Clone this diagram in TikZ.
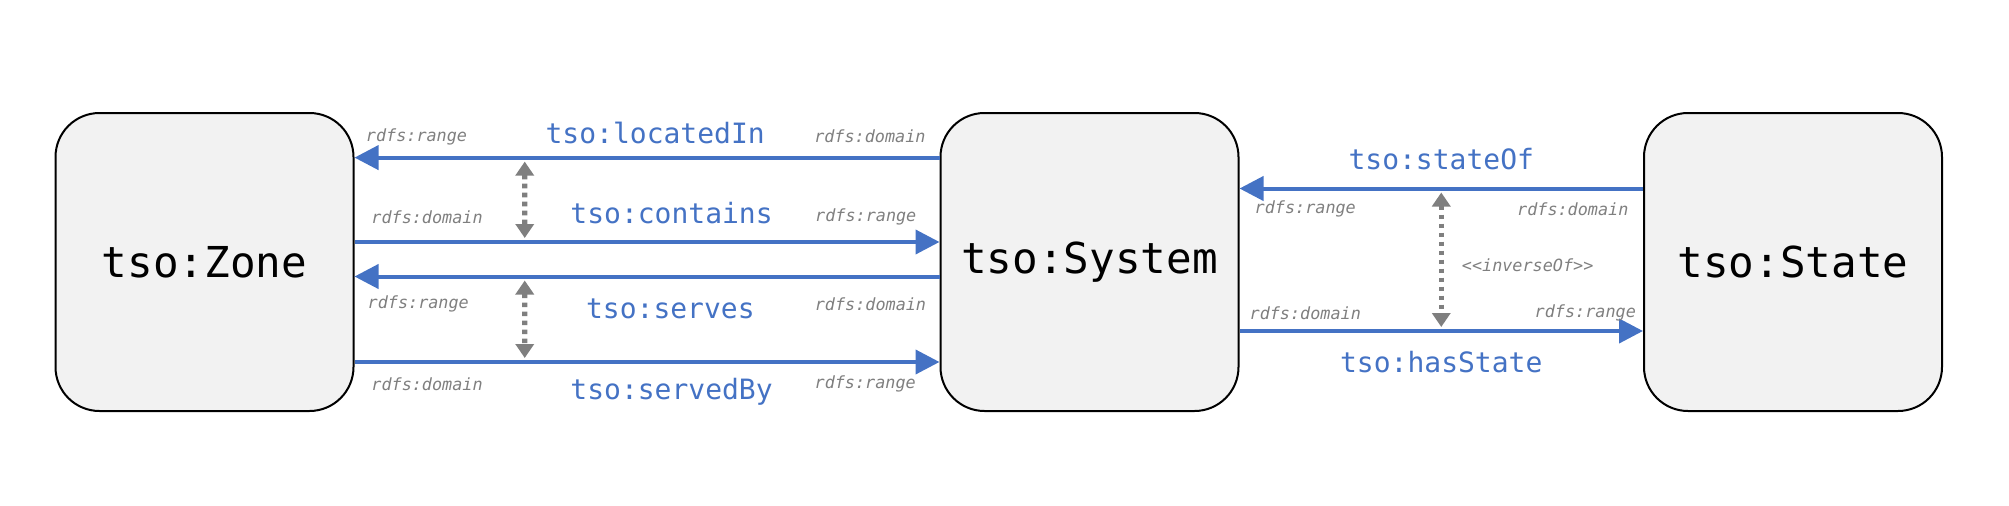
\documentclass[tikz,border=0pt]{standalone}
\usepackage{fontspec}
\setmonofont{DejaVu Sans Mono}
\usepackage{tikz}
\usetikzlibrary{arrows.meta}

\definecolor{relblue}{HTML}{4472C4}
\definecolor{notegray}{HTML}{7F7F7F}
\definecolor{boxfill}{HTML}{F2F2F2}

\begin{document}
\begin{tikzpicture}[x=0.5pt, y=0.5pt, >={Triangle[length=12pt,width=12pt]}, node distance=442.5pt]
\tikzstyle{class}=[draw=black,line width=1pt,fill=boxfill,rounded corners=22pt,minimum width=149pt,minimum height=149pt,font=\ttfamily\fontsize{21.3}{24}\selectfont]
\tikzstyle{rel}=[->,draw=relblue,line width=2pt]
\tikzstyle{prop}=[text=relblue,font=\ttfamily\fontsize{14}{16}\selectfont]
\tikzstyle{note}=[text=notegray,font=\ttfamily\itshape\fontsize{8.4}{10}\selectfont]
\tikzstyle{inv}=[{Triangle[length=7pt,width=9pt]}-{Triangle[length=7pt,width=9pt]},draw=notegray,line width=2.6pt,dash pattern=on 2.3pt off 2.2pt,shorten <=2pt,shorten >=2pt]
\useasboundingbox (0,0) rectangle (2009,505);
\node[class]    (Zone) at (204.5,243)                           {tso:Zone};
\node[class]    (Sys)[right of=Zone]                            {tso:System};
\node[class]    (State)[right of=Sys, node distance=351.75pt]   {tso:State};
% Zone <-> System
\draw[rel] ([yshift=52.2pt]Sys.west) -- coordinate[pos=0.709] (li)
    node[prop, pos=0.486, yshift=12.3pt]{tso:locatedIn}
    node[note, pos=0.119, yshift=10.5pt]{rdfs:domain}
    node[note, pos=0.894, yshift=10.5pt]{rdfs:range} ([yshift=52.2pt]Zone.east);
\draw[rel] ([yshift=10pt]Zone.east) -- coordinate[pos=0.291] (co)
    node[prop, pos=0.542, yshift=14.5pt]{tso:contains}
    node[note, pos=0.124, yshift=12.6pt]{rdfs:domain}
    node[note, pos=0.874, yshift=12.6pt]{rdfs:range} ([yshift=10pt]Sys.west);
\draw[rel] ([yshift=-7.25pt]Sys.west) -- coordinate[pos=0.709] (se)
    node[prop, pos=0.46, yshift=-16.25pt]{tso:serves}
    node[note, pos=0.118, yshift=-13.75pt]{rdfs:domain}
    node[note, pos=0.891, yshift=-13.75pt]{rdfs:range} ([yshift=-7.25pt]Zone.east);
\draw[rel] ([yshift=-50pt]Zone.east) -- coordinate[pos=0.291] (sb)
    node[prop, pos=0.542, yshift=-15pt]{tso:servedBy}
    node[note, pos=0.124, yshift=-11pt]{rdfs:domain}
    node[note, pos=0.873, yshift=-11pt]{rdfs:range} ([yshift=-50pt]Sys.west);
\draw[inv] (li) -- (co);
\draw[inv] (se) -- (sb);
% System <-> State
\draw[rel] ([yshift=36.75pt]State.west) -- coordinate[midway] (so)
    node[prop, midway, yshift=14.75pt]{tso:stateOf}
    node[note, pos=0.174, yshift=-10.2pt]{rdfs:domain}
    node[note, pos=0.837, yshift=-10.2pt]{rdfs:range} ([yshift=36.75pt]Sys.east);
\draw[rel] ([yshift=-34.5pt]Sys.east) -- coordinate[midway] (hs)
    node[prop, midway, yshift=-15.5pt]{tso:hasState}
    node[note, pos=0.163, yshift=9pt]{rdfs:domain}
    node[note, pos=0.857, yshift=9pt]{rdfs:range} ([yshift=-34.5pt]State.west);
\draw[inv] (so) -- node[note, right, pos=0.537, xshift=5.7pt]{<{}<inverseOf>{}>} (hs);
\end{tikzpicture}
\end{document}
